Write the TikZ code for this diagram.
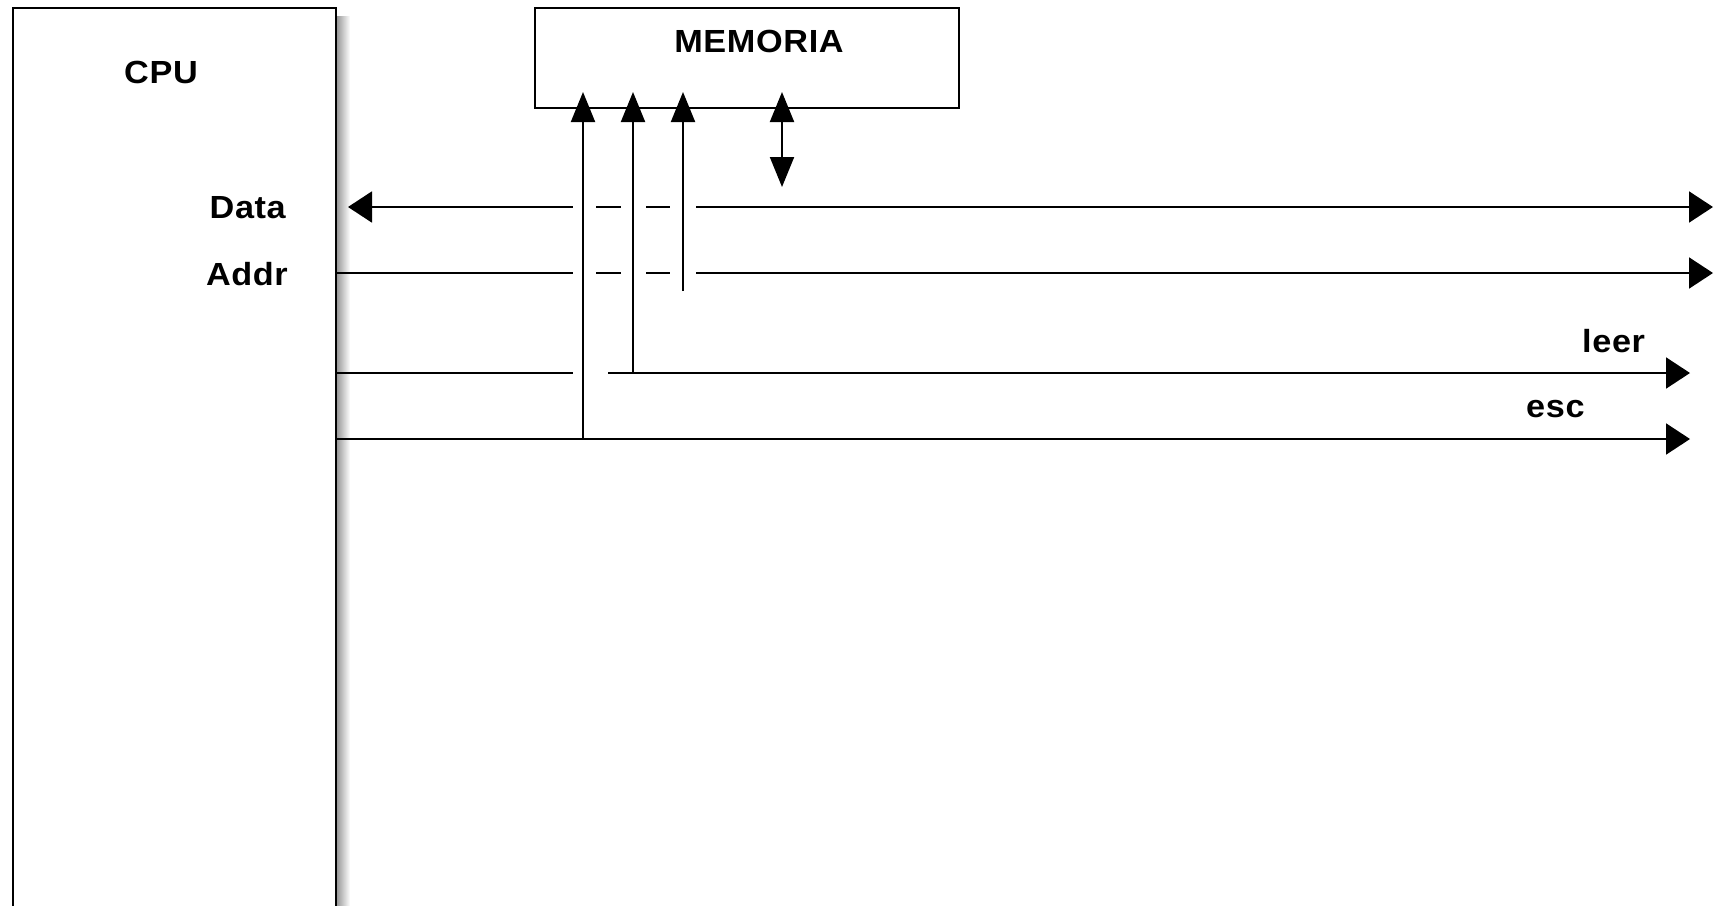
\documentclass[tikz,border=0pt]{standalone}
\usepackage{fontspec}
\setmainfont{Liberation Sans}
\newfontfamily\lblfont[FakeStretch=1.07,LetterSpace=2]{Liberation Sans}
\usetikzlibrary{arrows.meta}
\tikzset{
  box/.style={draw, line width=2pt, fill=white, inner sep=0pt, anchor=north west},
  lbl/.style={inner sep=0pt, font=\lblfont\fontsize{32}{38}\selectfont\bfseries},
  bus/.style={line width=2pt},
  hend/.style={-{Triangle[length=24pt,width=31pt]}},
  hstart/.style={{Triangle[length=24pt,width=31pt]}-},
  vend/.style={-{Triangle[length=30pt,width=24pt]}},
  vboth/.style={{Triangle[length=30pt,width=24pt]}-{Triangle[length=30pt,width=24pt]}},
}
\begin{document}
\begin{tikzpicture}[x=1pt,y=-1pt]
\useasboundingbox (0,0) rectangle (1721,905);
% shadow of CPU box
\shade[left color=gray!85, right color=white] (336,16) rectangle (350,905);
% boxes
\node[box, minimum width=323pt, minimum height=930pt] (cpu) at (12,7) {};
\node[box, minimum width=424pt, minimum height=100pt] (mem) at (534,7) {};
% labels
\node[lbl, anchor=base] (cpul) at (161,83) {CPU};
\node[lbl, anchor=base] (meml) at (759,52) {MEMORIA};
\node[lbl, anchor=base east] (datal) at (286,218) {Data};
\node[lbl, anchor=base east] (addrl) at (288,285) {Addr};
\node[lbl, anchor=base west] (leerl) at (1582,352) {leer};
\node[lbl, anchor=base west] (escl) at (1526,417) {esc};
% coordinates
\coordinate (d0) at (348,207);   \coordinate (d1) at (573,207);
\coordinate (d2) at (596,207);   \coordinate (d3) at (621,207);
\coordinate (d4) at (646,207);   \coordinate (d5) at (670,207);
\coordinate (d6) at (696,207);   \coordinate (d7) at (1713,207);
\coordinate (a0) at (335,273);   \coordinate (a1) at (573,273);
\coordinate (a2) at (596,273);   \coordinate (a3) at (621,273);
\coordinate (a4) at (646,273);   \coordinate (a5) at (670,273);
\coordinate (a6) at (696,273);   \coordinate (a7) at (1713,273);
\coordinate (l0) at (335,373);   \coordinate (l1) at (573,373);
\coordinate (l2) at (608,373);   \coordinate (l3) at (633,373);
\coordinate (l4) at (1690,373);
\coordinate (e0) at (335,439);   \coordinate (e1) at (583,439);
\coordinate (e2) at (1690,439);
\coordinate (m1) at (583,92);    \coordinate (m2) at (633,92);
\coordinate (m3) at (683,92);    \coordinate (m4) at (782,92);
\coordinate (v3) at (683,291);   \coordinate (v4) at (782,187);
% Data bus
\draw[bus, hstart] (d0) -- (d1);
\draw[bus] (d2) -- (d3);
\draw[bus] (d4) -- (d5);
\draw[bus, hend] (d6) -- (d7);
% Addr bus
\draw[bus] (a0) -- (a1);
\draw[bus] (a2) -- (a3);
\draw[bus] (a4) -- (a5);
\draw[bus, hend] (a6) -- (a7);
% leer
\draw[bus] (l0) -- (l1);
\draw[bus, hend] (l2) -- (l4);
% esc
\draw[bus, hend] (e0) -- (e2);
% verticals into memory
\draw[bus, vend] (e1) -- (m1);
\draw[bus, vend] (l3) -- (m2);
\draw[bus, vend] (v3) -- (m3);
\draw[bus, vboth] (v4) -- (m4);
\end{tikzpicture}
\end{document}
